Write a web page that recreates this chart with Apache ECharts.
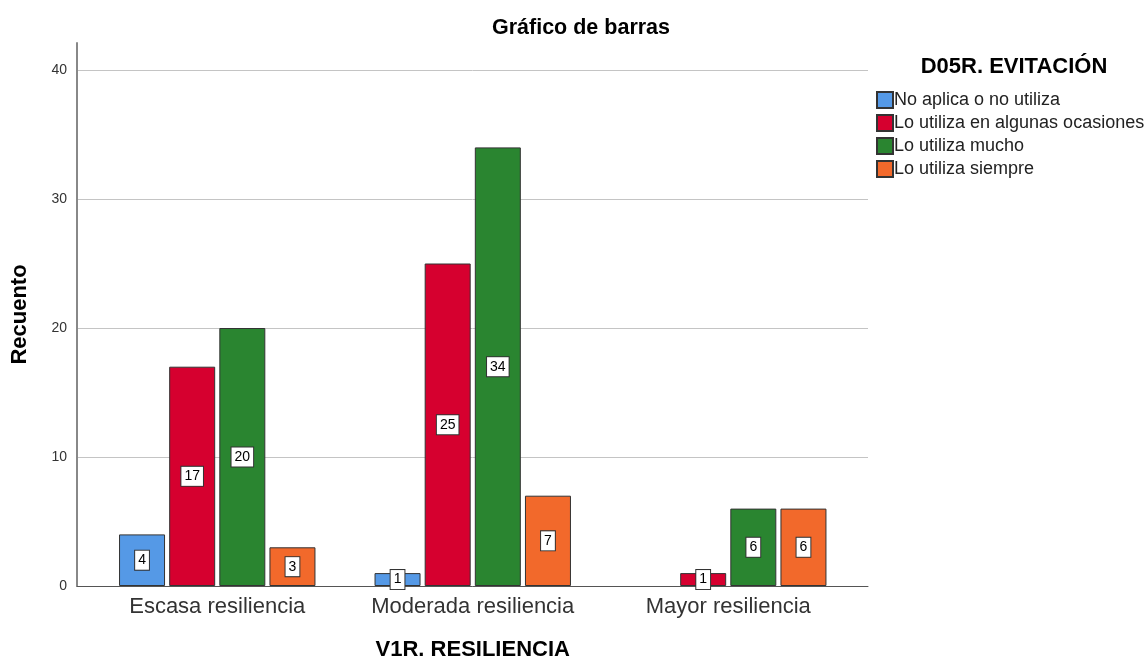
<!DOCTYPE html>
<html><head><meta charset="utf-8">
<script src="https://cdn.jsdelivr.net/npm/echarts@6/dist/echarts.min.js"></script>
<style>html,body{margin:0;padding:0;background:#fff}#c{width:1148px;height:660px}</style>
</head><body><div id="c"></div>
<script>
const categories = ['Escasa resiliencia', 'Moderada resiliencia', 'Mayor resiliencia'];
const seriesNames = ['No aplica o no utiliza', 'Lo utiliza en algunas ocasiones', 'Lo utiliza mucho', 'Lo utiliza siempre'];
const noAplica = [4, 1, null];
const algunas = [17, 25, 1];
const mucho = [20, 34, 6];
const siempre = [3, 7, 6];
const yTicks = [0, 10, 20, 30, 40];
const colors = ['#5599E6', '#D6002F', '#2A8530', '#F2692B'];

const font = 'Liberation Sans, Arial, sans-serif';
const chart = echarts.init(document.getElementById('c'));
const seriesData = [noAplica, algunas, mucho, siempre];

chart.setOption({
  animation: false,
  textStyle: { fontFamily: font },
  title: [
    { text: 'Gráfico de barras', left: 576, top: 12, textAlign: 'center',
      textStyle: { fontSize: 21.5, fontWeight: 'bold', color: '#000', fontFamily: font } },
    { text: 'D05R. EVITACIÓN', left: 1009, top: 51, textAlign: 'center',
      textStyle: { fontSize: 22, fontWeight: 'bold', color: '#000', fontFamily: font } }
  ],
  legend: {
    orient: 'vertical', left: 871, top: 86, itemWidth: 16, itemHeight: 16, itemGap: 5,
    icon: 'rect', data: seriesNames,
    textStyle: { fontSize: 18, color: '#222', fontFamily: font, padding: [0, 0, 0, -4] }
  },
  grid: [
    { left: 77, right: 280, top: 70, bottom: 74, outerBoundsMode: 'none', containLabel: false },
    { left: 77, right: 280, top: 43, bottom: 74, outerBoundsMode: 'none', containLabel: false },
    { left: 89.5, right: 292, top: 70, bottom: 74, outerBoundsMode: 'none', containLabel: false }
  ],
  xAxis: [
    { gridIndex: 0, type: 'value', min: 0, max: 1, show: true,
      axisLine: { show: true, lineStyle: { color: '#555', width: 1 } },
      axisTick: { show: false }, axisLabel: { show: false }, splitLine: { show: false } },
    { gridIndex: 1, type: 'value', min: 0, max: 1, show: false },
    { gridIndex: 2, type: 'category', data: categories,
      axisLine: { show: false }, axisTick: { show: false },
      axisLabel: { interval: 0, hideOverlap: false, fontSize: 22, color: '#333', margin: 10, fontFamily: font },
      name: 'V1R. RESILIENCIA', nameLocation: 'middle', nameGap: 53,
      nameTextStyle: { fontSize: 22, fontWeight: 'bold', color: '#000', fontFamily: font } }
  ],
  yAxis: [
    { gridIndex: 0, type: 'value', min: yTicks[0], max: yTicks[yTicks.length - 1], interval: 10,
      axisLine: { show: false }, axisTick: { show: false },
      axisLabel: { fontSize: 14, color: '#333', margin: 10, fontFamily: font },
      splitLine: { show: true, lineStyle: { color: '#c4c4c4', width: 1 } } },
    { gridIndex: 1, type: 'value', min: 0, max: 42,
      axisLine: { show: true, lineStyle: { color: '#888', width: 2 } },
      axisTick: { show: false }, axisLabel: { show: false }, splitLine: { show: false },
      name: 'Recuento', nameLocation: 'middle', nameGap: 46, nameRotate: 90,
      nameTextStyle: { fontSize: 22, fontWeight: 'bold', color: '#000', fontFamily: font } },
    { gridIndex: 2, type: 'value', min: yTicks[0], max: yTicks[yTicks.length - 1], show: false }
  ],
  series: seriesNames.map((name, i) => ({
    name, type: 'bar', xAxisIndex: 2, yAxisIndex: 2,
    data: seriesData[i],
    barWidth: 46, barGap: '9%',
    itemStyle: { color: colors[i], borderColor: '#333', borderWidth: 1 },
    label: {
      show: true, position: 'inside', color: '#000', fontSize: 14, fontFamily: font,
      backgroundColor: '#fff', borderColor: '#333', borderWidth: 1, padding: [3, 3, 2, 3]
    }
  }))
});
</script></body></html>
